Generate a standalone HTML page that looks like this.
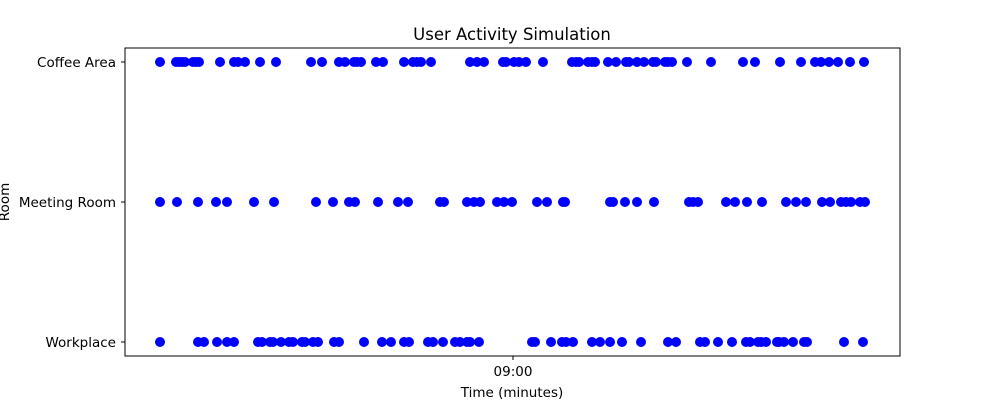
<!DOCTYPE html>
<html><head><meta charset="utf-8"><style>
html,body{margin:0;padding:0;background:#fff;}
svg{display:block;font-family:"DejaVu Sans","Liberation Sans",sans-serif;}
</style></head><body>
<svg id="chart" width="1000" height="400" viewBox="0 0 1000 400">
<text x="512" y="40" text-anchor="middle" font-size="16.5">User Activity Simulation</text>
<g id="marks"></g>
<rect x="125" y="48" width="775" height="308" fill="none" stroke="#000" stroke-width="1"/>
<g id="axes"></g>
<text x="512" y="397" text-anchor="middle" font-size="13.5">Time (minutes)</text>
<text transform="translate(9,202) rotate(-90)" text-anchor="middle" font-size="13.5">Room</text>
</svg>
<script>
// time in minutes after 08:00
const categories = ["Workplace", "Meeting Room", "Coffee Area"];
const coffeeTimes = [24.7,26.3,26.6,26.9,27.2,28.0,28.3,28.6,30.7,32.1,32.5,33.2,34.7,36.3,39.8,40.9,42.6,43.2,44.1,44.4,44.8,46.3,47.0,49.1,50.0,50.4,50.8,51.8,55.7,56.4,57.1,59.0,59.3,60.1,60.6,61.3,63.0,65.9,66.3,66.6,67.5,67.9,68.2,69.5,70.3,71.3,71.6,72.4,73.1,74.0,74.3,75.2,75.5,75.9,77.4,79.8,83.0,84.2,86.7,88.8,90.2,90.8,91.6,92.5,93.7,95.1];
const meetingTimes = [24.7,26.4,28.5,30.3,31.4,34.1,36.1,40.3,42.0,43.6,44.2,46.5,48.5,49.5,52.7,53.1,55.4,56.1,56.7,58.4,59.1,59.9,62.4,63.4,65.0,65.2,69.7,70.0,71.2,72.4,74.1,77.6,78.0,78.5,81.3,82.2,83.4,84.9,87.3,88.3,89.3,90.9,91.7,92.8,93.3,93.8,94.7,95.2];
const workTimes = [24.7,28.5,29.1,30.4,31.4,32.1,34.5,34.9,35.7,36.0,36.8,37.6,38.0,38.9,39.2,40.0,40.5,42.1,42.6,45.1,46.9,47.8,49.1,49.6,51.5,52.0,53.0,54.2,54.7,55.4,55.7,56.6,61.9,62.2,63.8,64.9,65.3,66.0,67.9,68.7,69.7,70.9,72.8,75.5,76.3,78.7,79.2,80.5,81.9,83.3,83.7,84.5,84.8,85.3,86.4,86.6,87.1,88.0,89.1,89.4,93.1,95.0];
const xTickValues = [60];
const xTickLabels = ["09:00"];

const NS = "http://www.w3.org/2000/svg";
function xScale(m){ return 513 + (m - 60) * 10; }
function yScale(i){ return 342 - i * 140; }
const marks = document.getElementById('marks');
const axes = document.getElementById('axes');
const series = [workTimes, meetingTimes, coffeeTimes];
series.forEach(function(arr, ci){
  arr.forEach(function(t){
    const c = document.createElementNS(NS, 'circle');
    c.setAttribute('cx', xScale(t));
    c.setAttribute('cy', yScale(ci));
    c.setAttribute('r', 5);
    c.setAttribute('fill', '#0000ff');
    
    
    marks.appendChild(c);
  });
});
categories.forEach(function(cat, i){
  const y = yScale(i);
  const l = document.createElementNS(NS, 'line');
  l.setAttribute('x1', 121); l.setAttribute('x2', 125);
  l.setAttribute('y1', y); l.setAttribute('y2', y);
  l.setAttribute('stroke', '#000');
  
  
  axes.appendChild(l);
  const tx = document.createElementNS(NS, 'text');
  tx.setAttribute('x', 116); tx.setAttribute('y', y + 5);
  tx.setAttribute('text-anchor', 'end'); tx.setAttribute('font-size', '13.5');
  tx.textContent = cat;
  
  
  axes.appendChild(tx);
});
xTickValues.forEach(function(v, i){
  const x = xScale(v);
  const l = document.createElementNS(NS, 'line');
  l.setAttribute('x1', x); l.setAttribute('x2', x);
  l.setAttribute('y1', 356); l.setAttribute('y2', 360);
  l.setAttribute('stroke', '#000');
  
  
  axes.appendChild(l);
  const tx = document.createElementNS(NS, 'text');
  tx.setAttribute('x', x); tx.setAttribute('y', 376);
  tx.setAttribute('text-anchor', 'middle'); tx.setAttribute('font-size', '13.5');
  tx.textContent = xTickLabels[i];
  
  
  axes.appendChild(tx);
});
</script>
</body></html>
